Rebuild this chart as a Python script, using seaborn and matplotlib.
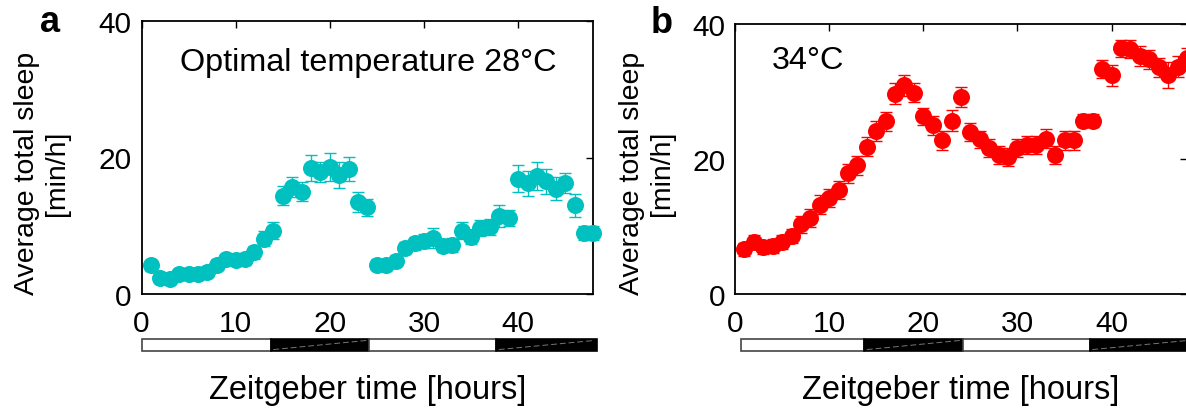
import numpy as np
import pandas as pd
import matplotlib
matplotlib.use("Agg")
import matplotlib.pyplot as plt
from matplotlib.patches import Rectangle
import seaborn as sns

# ---------------- data ----------------
hours = [1, 2, 3, 4, 5, 6, 7, 8, 9, 10, 11, 12, 13, 14, 15, 16, 17, 18, 19, 20, 21, 22, 23, 24,
         25, 26, 27, 28, 29, 30, 31, 32, 33, 34, 35, 36, 37, 38, 39, 40, 41, 42, 43, 44, 45, 46, 47, 48]

sleep_28 = [4.2, 2.3, 2.2, 2.9, 2.9, 2.9, 3.2, 4.3, 5.1, 5.0, 5.1, 6.1, 8.1, 9.3, 14.4, 15.7,
            15.0, 18.5, 17.9, 18.6, 17.5, 18.3, 13.5, 12.7, 4.3, 4.3, 4.9, 6.7, 7.4, 7.8, 8.2, 7.1,
            7.2, 9.3, 8.3, 9.7, 9.8, 11.4, 11.1, 16.9, 16.2, 17.3, 16.5, 15.4, 16.3, 13.0, 8.9, 8.9]
err_28 = [0.8, 0.7, 0.7, 0.7, 0.7, 0.7, 0.7, 0.8, 0.8, 0.8, 0.8, 0.9, 1.1, 1.3, 1.4, 1.5,
          1.4, 1.9, 1.5, 2.0, 1.9, 1.8, 1.5, 1.2, 0.8, 0.8, 0.8, 0.9, 1.0, 1.0, 1.4, 1.0,
          1.0, 1.3, 1.0, 1.2, 1.2, 1.6, 1.2, 2.0, 1.8, 2.0, 1.8, 1.7, 1.5, 1.7, 1.0, 1.0]

sleep_34 = [6.6, 7.7, 6.9, 7.1, 7.7, 8.6, 10.3, 11.3, 13.2, 14.2, 15.4, 17.9, 19.1, 21.8, 24.2, 25.6,
            29.7, 30.9, 29.8, 26.3, 25.0, 22.8, 25.7, 29.2, 24.0, 22.9, 21.6, 20.6, 20.3, 21.6, 22.1, 22.1,
            23.0, 20.6, 22.8, 22.8, 25.7, 25.7, 33.3, 32.4, 36.4, 36.3, 35.3, 34.8, 33.6, 32.4, 33.7, 35.0]
err_34 = [0.9, 1.0, 0.9, 1.0, 1.0, 1.1, 1.3, 1.3, 1.4, 1.3, 1.3, 1.4, 1.4, 1.4, 1.5, 1.4,
          1.5, 1.6, 1.4, 1.3, 1.4, 1.4, 1.5, 1.5, 1.4, 1.3, 1.3, 1.3, 1.3, 1.3, 1.3, 1.3,
          1.4, 1.3, 1.4, 1.4, 1.0, 1.0, 1.3, 1.6, 1.3, 1.4, 1.5, 1.4, 1.4, 1.9, 1.5, 1.5]

# light / dark schedule (hours): boundaries and phase
phase_edges = [0, 13.7, 24.2, 37.65, 48.4]
phase_kind = ["light", "dark", "light", "dark"]

x_ticks = [0, 10, 20, 30, 40]
y_ticks = [0, 20, 40]

panel_letters = ["a", "b"]
panel_titles = ["Optimal temperature 28\u00b0C", "34\u00b0C"]
colors = ["#00C0C0", "#FF0000"]
xlabel = "Zeitgeber time [hours]"
ylabel = "Average total sleep\n[min/h]"

# ---------------- style ----------------
sns.set_style("white")
plt.rcParams["font.family"] = ["Liberation Sans", "DejaVu Sans"]
plt.rcParams["text.color"] = "black"

W, H = 1186, 410
fig = plt.figure(figsize=(W / 100, H / 100), dpi=100)


def px_axes(l, t, r, b):
    return fig.add_axes([l / W, 1 - b / H, (r - l) / W, (b - t) / H])


ax_boxes = [(141.5, 22, 593.5, 295), (735, 25, 1187, 295)]
bar_boxes = [(141.5, 340, 593.5, 352), (735, 340, 1187, 352)]
bar_start = [0.0, 0.6]
letter_pos = [(40, 32), (651, 33)]
title_pos = [(180, 71), (772, 69)]
ylabel_pos = [(42, 173), (647, 173)]

datasets = [(sleep_28, err_28), (sleep_34, err_34)]

for i in range(2):
    ax = px_axes(*ax_boxes[i])
    vals, errs = datasets[i]
    df = pd.DataFrame({"hour": hours, "sleep": vals, "err": errs})
    ax.errorbar(df["hour"], df["sleep"], yerr=df["err"], fmt="none",
                ecolor=colors[i], elinewidth=1.0, capsize=4.5, capthick=1.0,
                zorder=2, clip_on=False)
    sns.scatterplot(data=df, x="hour", y="sleep", ax=ax, color=colors[i],
                    s=150, linewidth=0, zorder=3, clip_on=False, legend=False)
    ax.set_xlim(0, 48)
    ax.set_ylim(0, 40)
    ax.set_xticks(x_ticks)
    ax.set_yticks(y_ticks)
    ax.set_xlabel("")
    ax.set_ylabel("")
    for sp in ax.spines.values():
        sp.set_visible(True)
        sp.set_color("black")
        sp.set_linewidth(1.3)
    ax.tick_params(direction="in", length=5, width=1.0, top=True, right=True,
                   labelsize=21.5, colors="black")
    ax.tick_params(axis="x", pad=11)
    ax.tick_params(axis="y", pad=7)

    # light/dark bar
    bax = px_axes(*bar_boxes[i])
    bax.set_xlim(0, 48)
    bax.set_ylim(0, 1)
    bax.axis("off")
    for k, kind in enumerate(phase_kind):
        x0 = max(phase_edges[k], bar_start[i])
        x1 = phase_edges[k + 1]
        if kind == "light":
            bax.add_patch(Rectangle((x0, 0), x1 - x0, 1, facecolor="white",
                                    edgecolor="#444444", linewidth=1.2, clip_on=False))
        else:
            bax.add_patch(Rectangle((x0, 0), x1 - x0, 1, facecolor="black",
                                    edgecolor="black", linewidth=1.2, clip_on=False))
            bax.plot([x0 + 0.3, x1 - 0.3], [0.12, 0.88], color="#777777",
                     linewidth=0.7, linestyle=(0, (6, 3)), clip_on=False)

    fig.text(letter_pos[i][0] / W, 1 - letter_pos[i][1] / H, panel_letters[i],
             fontsize=26, fontweight="bold", va="baseline", ha="left", color="black")
    fig.text(title_pos[i][0] / W, 1 - title_pos[i][1] / H, panel_titles[i],
             fontsize=23.3, va="baseline", ha="left", color="black")
    fig.text(ylabel_pos[i][0] / W, 1 - ylabel_pos[i][1] / H, ylabel,
             fontsize=20.5, rotation=90, ha="center", va="center",
             multialignment="center", linespacing=1.2, color="black")
    cx = (ax_boxes[i][0] + min(ax_boxes[i][2], 1187)) / 2
    fig.text(cx / W, 1 - 399 / H, xlabel, fontsize=23.5, ha="center",
             va="baseline", color="black")

fig.savefig("out.png", dpi=100)
